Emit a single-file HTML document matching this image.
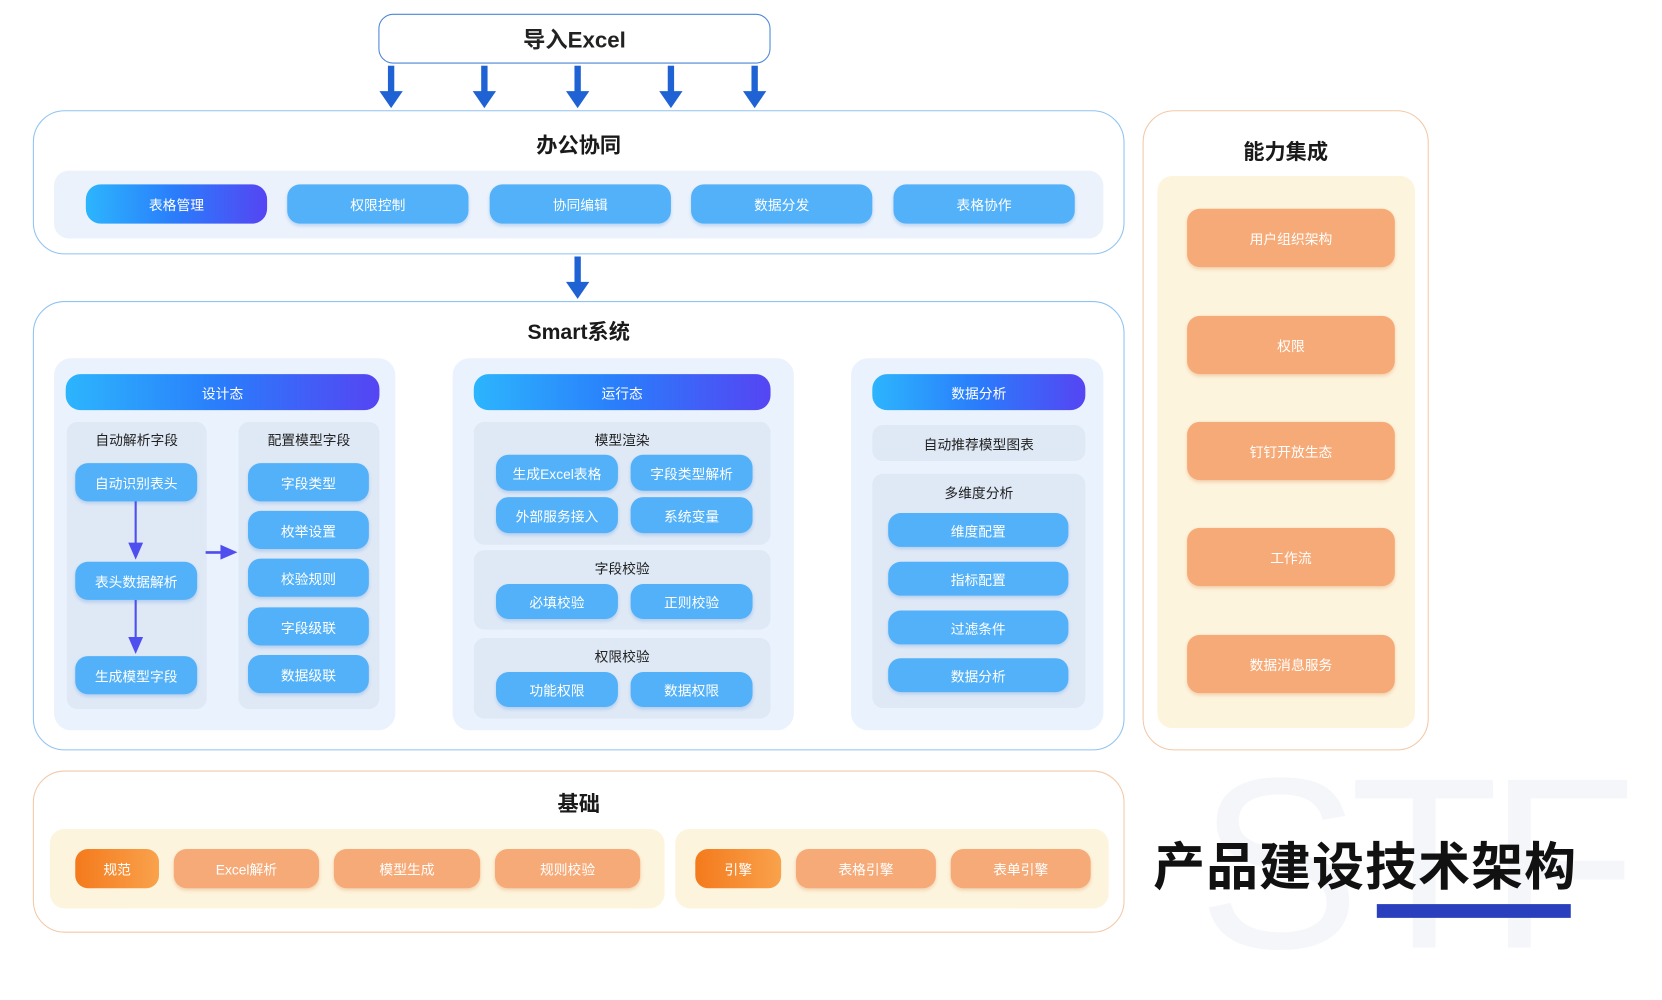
<!DOCTYPE html>
<html><head><meta charset="utf-8"><style>
html,body{margin:0;padding:0;background:#fff;width:1662px;height:942px;overflow:hidden}
#s{position:absolute;left:0;top:0;width:1568px;height:889px;transform:scale(1.0599);transform-origin:0 0;font-family:"Liberation Sans","Noto Sans CJK SC",sans-serif}
#s div{position:absolute;box-sizing:border-box}
.c{display:flex;align-items:center;justify-content:center;text-align:center}
.p{background:#52b1f8;color:#fff;font-size:13px;border-radius:12px;box-shadow:0 2px 3px rgba(60,130,220,.25)}
.g{background:linear-gradient(90deg,#2cb5fd,#2a7cfb 50%,#5545f3);color:#fff;font-size:13px;border-radius:14px}
.o{background:#f6aa77;color:#fff;font-size:13px;border-radius:12px;box-shadow:0 2px 3px rgba(220,140,80,.3)}
.og{background:linear-gradient(90deg,#f47a1c,#f9a24c);color:#fff;font-size:13px;border-radius:12px}
.panel{border:1.5px solid #8fc3f2;border-radius:30px;background:#fff}
.t{font-size:20px;font-weight:bold;color:#1a1a1a}
.sub{background:#dfe9f6;border-radius:10px}
.st{font-size:13px;color:#222}
</style></head><body><div id="s">
<div style="left:1130px;top:700px;font-size:230px;color:#f4f6f9;font-family:'Liberation Sans',sans-serif;line-height:1;letter-spacing:-10px">STF</div>

<div class="c" style="left:357px;top:13px;width:370px;height:47px;border:1.5px solid #4b86d8;border-radius:14px;font-size:21px;font-weight:bold;color:#222">导入Excel</div>
<svg style="position:absolute;left:0;top:0" width="1568" height="889">
<defs><marker id="a" markerWidth="4" markerHeight="4" refX="2" refY="2" orient="auto"><path d="M0,0L4,2L0,4z" fill="#1f62d4"/></marker>
<marker id="b" markerWidth="4" markerHeight="4" refX="2" refY="2" orient="auto"><path d="M0,0L4,2L0,4z" fill="#4f4ff0"/></marker></defs>
<g fill="#1f62d4">
<rect x="366" y="62" width="6" height="26"/><path d="M358,86h22l-11,16z"/>
<rect x="454" y="62" width="6" height="26"/><path d="M446,86h22l-11,16z"/>
<rect x="542" y="62" width="6" height="26"/><path d="M534,86h22l-11,16z"/>
<rect x="630" y="62" width="6" height="26"/><path d="M622,86h22l-11,16z"/>
<rect x="709" y="62" width="6" height="26"/><path d="M701,86h22l-11,16z"/>
<rect x="542" y="242" width="6" height="26"/><path d="M534,266h22l-11,16z"/>
<rect x="373" y="516" width="38" height="7"/><path d="M409,508v22l17,-11z"/>
<rect x="749" y="510" width="38" height="7"/><path d="M785,502v22l17,-11z"/>
</g>
</svg>

<div class="panel" style="left:31px;top:104px;width:1030px;height:136px"></div>
<div class="c t" style="left:31px;top:120px;width:1030px;height:30px">办公协同</div>
<div style="left:51px;top:161px;width:990px;height:64px;background:#ebf2fc;border-radius:14px"></div>
<div class="c g" style="left:81px;top:174px;width:171px;height:37px">表格管理</div>
<div class="c p" style="left:271px;top:174px;width:171px;height:37px">权限控制</div>
<div class="c p" style="left:462px;top:174px;width:171px;height:37px">协同编辑</div>
<div class="c p" style="left:652px;top:174px;width:171px;height:37px">数据分发</div>
<div class="c p" style="left:843px;top:174px;width:171px;height:37px">表格协作</div>

<div class="panel" style="left:31px;top:284px;width:1030px;height:424px"></div>
<div class="c t" style="left:31px;top:296px;width:1030px;height:30px">Smart系统</div>

<div style="left:51px;top:338px;width:322px;height:351px;background:#eaf2fd;border-radius:16px"></div>
<div class="c g" style="left:62px;top:353px;width:296px;height:34px">设计态</div>
<div class="sub" style="left:63px;top:398px;width:132px;height:271px"></div>
<div class="c st" style="left:63px;top:404px;width:132px;height:20px">自动解析字段</div>
<div class="c p" style="left:71px;top:437px;width:115px;height:36px">自动识别表头</div>
<div class="c p" style="left:71px;top:530px;width:115px;height:36px">表头数据解析</div>
<div class="c p" style="left:71px;top:619px;width:115px;height:36px">生成模型字段</div>
<div class="sub" style="left:225px;top:398px;width:133px;height:271px"></div>
<div class="c st" style="left:225px;top:404px;width:133px;height:20px">配置模型字段</div>
<div class="c p" style="left:234px;top:437px;width:114px;height:36px">字段类型</div>
<div class="c p" style="left:234px;top:482px;width:114px;height:36px">枚举设置</div>
<div class="c p" style="left:234px;top:527px;width:114px;height:36px">校验规则</div>
<div class="c p" style="left:234px;top:573px;width:114px;height:36px">字段级联</div>
<div class="c p" style="left:234px;top:618px;width:114px;height:36px">数据级联</div>
<svg style="position:absolute;left:0;top:0" width="600" height="700"><g fill="#4f4ff0">
<rect x="127" y="473" width="2" height="40"/><path d="M121,512h14l-7,16z"/>
<rect x="127" y="566" width="2" height="36"/><path d="M121,601h14l-7,16z"/>
<rect x="194" y="520" width="16" height="2.5"/><path d="M208,514v14l16,-7z"/>
</g></svg>

<div style="left:427px;top:338px;width:322px;height:351px;background:#eaf2fd;border-radius:16px"></div>
<div class="c g" style="left:447px;top:353px;width:280px;height:34px">运行态</div>
<div class="sub" style="left:447px;top:398px;width:280px;height:116px"></div>
<div class="c st" style="left:447px;top:404px;width:280px;height:20px">模型渲染</div>
<div class="c p" style="left:468px;top:429px;width:115px;height:34px">生成Excel表格</div>
<div class="c p" style="left:595px;top:429px;width:115px;height:34px">字段类型解析</div>
<div class="c p" style="left:468px;top:469px;width:115px;height:34px">外部服务接入</div>
<div class="c p" style="left:595px;top:469px;width:115px;height:34px">系统变量</div>
<div class="sub" style="left:447px;top:519px;width:280px;height:75px"></div>
<div class="c st" style="left:447px;top:525px;width:280px;height:20px">字段校验</div>
<div class="c p" style="left:468px;top:551px;width:115px;height:33px">必填校验</div>
<div class="c p" style="left:595px;top:551px;width:115px;height:33px">正则校验</div>
<div class="sub" style="left:447px;top:602px;width:280px;height:76px"></div>
<div class="c st" style="left:447px;top:608px;width:280px;height:20px">权限校验</div>
<div class="c p" style="left:468px;top:634px;width:115px;height:33px">功能权限</div>
<div class="c p" style="left:595px;top:634px;width:115px;height:33px">数据权限</div>

<div style="left:803px;top:338px;width:238px;height:351px;background:#eaf2fd;border-radius:16px"></div>
<div class="c g" style="left:823px;top:353px;width:201px;height:34px">数据分析</div>
<div class="c sub st" style="left:823px;top:401px;width:201px;height:34px">自动推荐模型图表</div>
<div class="sub" style="left:823px;top:447px;width:201px;height:221px"></div>
<div class="c st" style="left:823px;top:454px;width:201px;height:20px">多维度分析</div>
<div class="c p" style="left:838px;top:484px;width:170px;height:32px">维度配置</div>
<div class="c p" style="left:838px;top:530px;width:170px;height:32px">指标配置</div>
<div class="c p" style="left:838px;top:576px;width:170px;height:32px">过滤条件</div>
<div class="c p" style="left:838px;top:621px;width:170px;height:32px">数据分析</div>

<div style="left:1078px;top:104px;width:270px;height:604px;border:1.5px solid #f2c9a8;border-radius:30px;background:#fff"></div>
<div class="c t" style="left:1078px;top:126px;width:270px;height:30px">能力集成</div>
<div style="left:1092px;top:166px;width:243px;height:521px;background:#fdf4dd;border-radius:14px"></div>
<div class="c o" style="left:1120px;top:197px;width:196px;height:55px">用户组织架构</div>
<div class="c o" style="left:1120px;top:298px;width:196px;height:55px">权限</div>
<div class="c o" style="left:1120px;top:398px;width:196px;height:55px">钉钉开放生态</div>
<div class="c o" style="left:1120px;top:498px;width:196px;height:55px">工作流</div>
<div class="c o" style="left:1120px;top:599px;width:196px;height:55px">数据消息服务</div>

<div style="left:31px;top:727px;width:1030px;height:153px;border:1.5px solid #f2c9a8;border-radius:30px;background:#fff"></div>
<div class="c t" style="left:31px;top:741px;width:1030px;height:30px">基础</div>
<div style="left:47px;top:782px;width:580px;height:75px;background:#fdf4dd;border-radius:14px"></div>
<div style="left:637px;top:782px;width:409px;height:75px;background:#fdf4dd;border-radius:14px"></div>
<div class="c og" style="left:71px;top:801px;width:79px;height:37px">规范</div>
<div class="c o" style="left:164px;top:801px;width:137px;height:37px">Excel解析</div>
<div class="c o" style="left:315px;top:801px;width:138px;height:37px">模型生成</div>
<div class="c o" style="left:467px;top:801px;width:137px;height:37px">规则校验</div>
<div class="c og" style="left:656px;top:801px;width:81px;height:37px">引擎</div>
<div class="c o" style="left:751px;top:801px;width:132px;height:37px">表格引擎</div>
<div class="c o" style="left:897px;top:801px;width:132px;height:37px">表单引擎</div>

<div style="left:1088px;top:788px;font-size:49px;font-weight:bold;color:#111;line-height:62px;white-space:nowrap;letter-spacing:1px">产品建设技术架构</div>
<div style="left:1299px;top:853px;width:183px;height:13px;background:#2a3fbe"></div>
</div></body></html>
